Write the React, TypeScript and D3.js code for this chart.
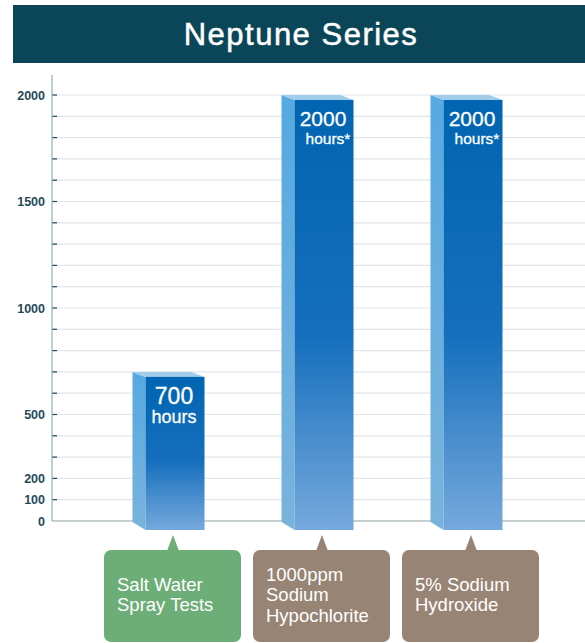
import React from 'react';
import * as d3 from 'd3';

// chart data
const categories = ['salt', 'hypo', 'hydrox'];
const hours = [700, 2000, 2000];
const valueLabels = ['700', '2000', '2000'];
const unitLabels = ['hours', 'hours*', 'hours*'];
const calloutLines = [
  ['Salt Water', 'Spray Tests'],
  ['1000ppm', 'Sodium', 'Hypochlorite'],
  ['5% Sodium', 'Hydroxide'],
];
const calloutColors = ['#6dad77', '#978474', '#978474'];
const labeledTicks = [0, 100, 200, 500, 1000, 1500, 2000];
const title = 'Neptune Series';

const W = 585;
const H = 643;
const FONT = '"Liberation Sans", Arial, Helvetica, sans-serif';

export default function App() {
  const y = d3.scaleLinear().domain([0, 2000]).range([521, 95]);
  const x = d3.scaleBand<string>().domain(categories).range([100.5, 547.5]).padding(0);
  const axisX = 52;
  const frontW = 59;
  const sideDx = 13;

  return (
    <svg
      width={W}
      height={H}
      style={{ position: 'absolute', left: 0, top: 0, fontFamily: FONT }}
    >
      <defs>
        <linearGradient id="front" x1="0" y1="0" x2="0" y2="1">
          <stop offset="0%" stopColor="#0065b2" />
          <stop offset="55%" stopColor="#166fbd" />
          <stop offset="100%" stopColor="#76a9dc" />
        </linearGradient>
        <linearGradient id="side" x1="0" y1="0" x2="0" y2="1">
          <stop offset="0%" stopColor="#55a9e1" />
          <stop offset="100%" stopColor="#79b3dc" />
        </linearGradient>
      </defs>

      {/* title bar */}
      <rect x={13} y={5} width={W - 13} height={58} fill="#0a4658" />
      <text
        x={301}
        y={45}
        textAnchor="middle"
        fill="#fff"
        stroke="#fff"
        strokeWidth={0.5}
        fontSize={31}
        letterSpacing={1.5}
      >
        {title}
      </text>

      {/* grid */}
      {y.ticks(20).filter(t => t > 0).map(t => (
        <g key={t}>
          <line x1={axisX} x2={W} y1={y(t)} y2={y(t)} stroke="#dfe7ed" strokeWidth={1.2} />
          <line x1={axisX} x2={axisX + 5} y1={y(t)} y2={y(t)} stroke="#1e4654" strokeWidth={1.2} />
        </g>
      ))}
      <line x1={axisX} x2={axisX} y1={75} y2={y(0)} stroke="#8fb0ba" strokeWidth={1.2} />
      <line x1={axisX} x2={W} y1={y(0)} y2={y(0)} stroke="#8e9ea6" strokeWidth={1.2} />

      {labeledTicks.map(t => (
        <text
          key={t}
          x={45}
          y={y(t) + 4.5}
          textAnchor="end"
          fontSize={12.5}
          fontWeight="bold"
          fill="#1f4a5a"
        >
          {t}
        </text>
      ))}

      {/* bars */}
      {categories.map((c, i) => {
        const cx = (x(c) as number) + x.bandwidth() / 2;
        const fl = cx - frontW / 2;
        const fr = cx + frontW / 2;
        const bl = fl - sideDx;
        const topBack = y(hours[i]);
        const topFront = topBack + 5;
        const botBack = y(0) + 1;
        const botFront = y(0) + 9;
        const tall = hours[i] > 1000;
        return (
          <g key={c}>
            <polygon
              points={`${bl},${topBack} ${fl},${topFront} ${fl},${botFront} ${bl},${botBack}`}
              fill="url(#side)"
            />
            <polygon
              points={`${bl},${topBack} ${fr - sideDx},${topBack} ${fr},${topFront} ${fl},${topFront}`}
              fill="#a2cdea"
            />
            <rect x={fl} y={topFront} width={frontW} height={botFront - topFront} fill="url(#front)" />
            <text
              x={cx - 1}
              y={topFront + (tall ? 26 : 27.5)}
              textAnchor="middle"
              fill="#fff"
              stroke="#fff"
              strokeWidth={0.3}
              fontSize={tall ? 21 : 23}
            >
              {valueLabels[i]}
            </text>
            <text
              x={cx + (tall ? 4 : -1)}
              y={topFront + (tall ? 44 : 46.5)}
              textAnchor="middle"
              fill="#fff"
              stroke="#fff"
              strokeWidth={0.3}
              fontSize={tall ? 15.5 : 18}
            >
              {unitLabels[i]}
            </text>
          </g>
        );
      })}

      {/* callouts */}
      {categories.map((c, i) => {
        const cx = (x(c) as number) + x.bandwidth() / 2 - 2;
        const bx = cx - 69;
        const lines = calloutLines[i];
        const lh = 20.5;
        const firstBase = 601 - ((lines.length - 1) * lh) / 2;
        return (
          <g key={c}>
            <polygon points={`${cx - 6},551 ${cx},535 ${cx + 6},551`} fill={calloutColors[i]} />
            <rect x={bx} y={550} width={137} height={92} rx={7} fill={calloutColors[i]} />
            {lines.map((l, j) => (
              <text key={j} x={bx + 13} y={firstBase + j * lh} fill="#fff" fontSize={18.5}>
                {l}
              </text>
            ))}
          </g>
        );
      })}
    </svg>
  );
}
